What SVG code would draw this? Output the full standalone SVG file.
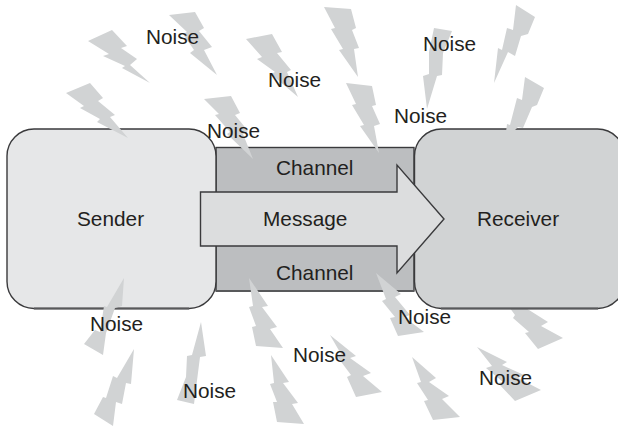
<svg xmlns="http://www.w3.org/2000/svg" width="618" height="426" viewBox="0 0 618 426">
<style>
text{font-family:"Liberation Sans",Arial,sans-serif;font-size:20.8px;fill:#231f20}
.bolt{fill:#d1d3d4;stroke:none}
.box{stroke:#3a3a3c;stroke-width:1.4}
.base{fill:none;stroke:#58595b;stroke-width:2.2}
</style>
<rect width="618" height="426" fill="#ffffff"/>
<g id="channel"><rect class="box" x="216" y="147.500" width="198" height="143.500" fill="#bcbec0"/><path class="base" d="M216 291H414"/><text x="276" y="175">Channel</text><text x="276" y="280">Channel</text></g>
<g id="noise-under"><polygon class="bolt" points="498,292 529,310 548,322 541,326 563,338 538,349 525,333 529,332 513,318 515,315"/></g>
<g id="sender"><rect class="box" x="7" y="129" width="209" height="179.500" rx="27" fill="#e6e7e8"/><path class="base" d="M34 308.500H189"/><text x="77" y="226">Sender</text></g>
<g id="receiver"><rect class="box" x="414.500" y="129" width="210" height="179.500" rx="27" fill="#d1d3d4"/><path class="base" d="M441 308.500H598"/><text x="477" y="226">Receiver</text></g>
<g id="connectors"><g id="message"><polygon class="box" points="200.500,192 397,192 397,165 444,219 397,273 397,246 200.500,246" fill="#dcddde"/><text x="263" y="226">Message</text></g></g>
<g id="noise-bolts">
<polygon class="bolt" points="88,41 112,30 127,46 121,48 137,59 130,65 150,83 122,68 125,66 103,56 109,54"/>
<polygon class="bolt" points="169,15 195,12 204,28 199,31 212,47 204,50 217,75 190,53 194,50 183,34 187,32"/>
<polygon class="bolt" points="246,39 272,34 282,52 277,53 291,70 287,72 298,97 271,74 275,72 257,59 262,57"/>
<polygon class="bolt" points="66,93 90,83 103,98 98,101 115,115 110,117 128,138 97,122 100,119 80,108 84,106"/>
<polygon class="bolt" points="204,99 231,96 240,113 235,115 248,131 243,134 253,159 227,134 230,132 215,115 219,114"/>
<polygon class="bolt" points="324,7 351,9 356,28 352,30 359,48 354,49 358,77 339,50 343,49 331,29 335,28"/>
<polygon class="bolt" points="346,83 372,86 376,105 372,106 380,124 374,126 379,153 360,126 364,125 352,105 356,104"/>
<polygon class="bolt" points="434,28 452,31 443,53 442,75 437,76 427,109 423,76 429,74 429,52"/>
<polygon class="bolt" points="516,5 535,17 528,34 521,36 515,56 508,52 494,83 498,48 502,50 507,28 513,30"/>
<polygon class="bolt" points="525,77 544,88 537,105 532,107 523,128 518,127 505,140 507,124 510,125 517,98 522,100"/>
<polygon class="bolt" points="124,278 122,306 115,308 106,333 103,355 84,344 95,330 100,332 104,306 107,307"/>
<polygon class="bolt" points="134,349 131,384 126,383 122,404 116,402 113,426 94,414 103,397 106,398 113,376 117,378"/>
<polygon class="bolt" points="201,322 206,356 200,357 194,404 177,400 186,377 187,356 192,355"/>
<polygon class="bolt" points="249,278 268,306 262,307 277,327 270,329 283,348 256,346 252,327 256,326 249,307 253,306"/>
<polygon class="bolt" points="271,355 289,382 283,383 298,403 292,404 304,424 277,422 273,402 277,402 270,384 274,383"/>
<polygon class="bolt" points="376,273 401,294 395,297 410,315 404,317 424,332 398,336 390,318 395,317 382,301 386,299"/>
<polygon class="bolt" points="330,335 356,356 350,358 371,373 363,376 382,392 356,397 347,377 351,375 336,355 341,354"/>
<polygon class="bolt" points="412,357 436,378 429,382 449,396 442,399 460,417 433,420 424,401 428,400 417,383 421,382"/>
<polygon class="bolt" points="477,347 507,362 502,365 524,375 518,378 541,390 515,401 498,383 503,382 486,368 492,366"/>
</g>
<g id="noise-labels">
<text x="146" y="44">Noise</text>
<text x="268" y="87">Noise</text>
<text x="207" y="138">Noise</text>
<text x="423" y="51">Noise</text>
<text x="394" y="123">Noise</text>
<text x="90" y="331">Noise</text>
<text x="183" y="398">Noise</text>
<text x="293" y="362">Noise</text>
<text x="398" y="324">Noise</text>
<text x="479" y="385">Noise</text>
</g>
</svg>
